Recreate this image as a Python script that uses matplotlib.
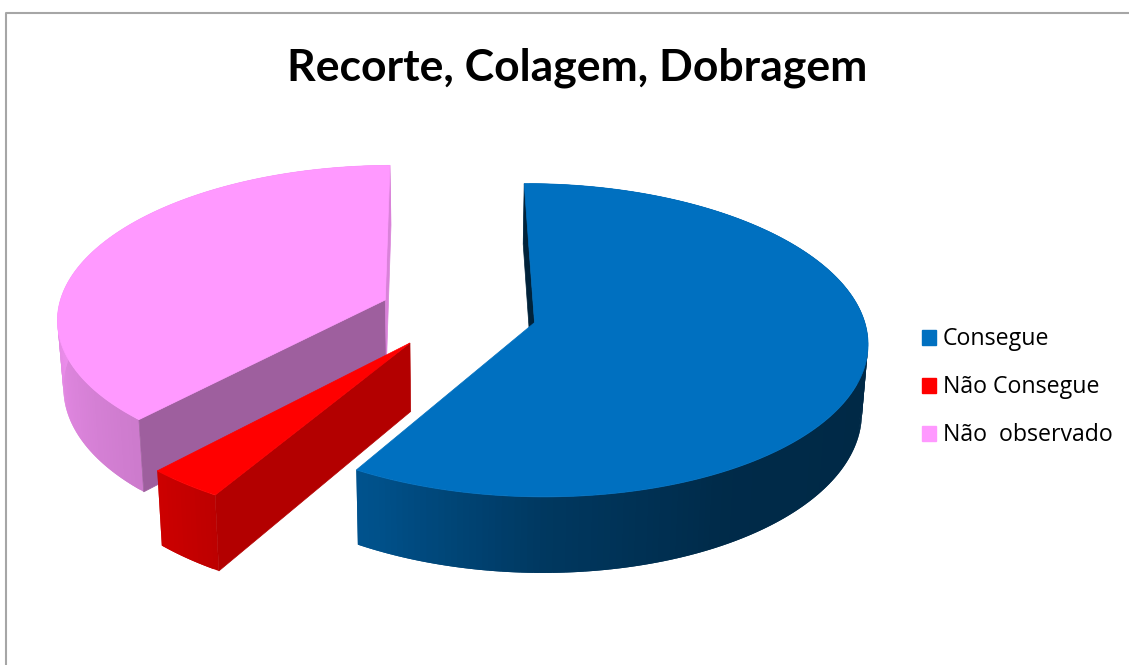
import numpy as np
import matplotlib
matplotlib.use('Agg')
import matplotlib.pyplot as plt
from matplotlib.patches import Polygon, Patch

# data
labels = ['Consegue', 'Não Consegue', 'Não  observado']
values = [58.65, 3.35, 38.0]
colors = ['#0070C0', '#FF0000', '#FF99FF']
title = 'Recorte, Colagem, Dobragem'

# look of the fake 3d pie (pixels of the 1129x665 picture)
start_angle = -0.5
explode = 0.24
x0, y0 = 458, 313
rx, ry = 328, 152.5
persp = 0.112
depth = 67
x_shrink = 0.985

# how dark the wall gets going round the pie (clockwise from the top)
shade_angle = [0, 100, 150, 180, 207, 222, 270, 360]
shade_value = [0.85, 0.36, 0.38, 0.5, 0.72, 0.8, 0.92, 0.85]
wall_start = [0.3, 0.7, 0.62]
wall_end = [0.3, 0.7, 0.85]


def project(X, Y, z=0.0):
    s = 1 / (1 + persp * Y)
    shrink = 1 - (1 - x_shrink) * z
    return x0 + rx * X * s * shrink, y0 - ry * Y * s + depth * s * z


def darker(col, k):
    return tuple(c * k for c in matplotlib.colors.to_rgb(col))


def area(pts):
    pts = np.array(pts)
    x, y = pts[:, 0], pts[:, 1]
    return 0.5 * np.sum(x * np.roll(y, -1) - y * np.roll(x, -1))


def draw_slice(ax, a0, a1, col, w0, w1):
    mid = np.radians((a0 + a1) / 2)
    cx, cy = explode * np.sin(mid), explode * np.cos(mid)
    ang = np.arange(a0, a1, 1.0)
    ang = np.append(ang, a1)
    X = cx + np.sin(np.radians(ang))
    Y = cy + np.cos(np.radians(ang))

    # outer wall, strips overlap by one step so no seams show
    n = len(ang)
    for i in range(n - 1):
        e = min(i + 2, n - 1)
        q = [project(X[i], Y[i]), project(X[e], Y[e]),
             project(X[e], Y[e], 1), project(X[i], Y[i], 1)]
        k = np.interp((ang[i] + ang[i + 1]) / 2, shade_angle, shade_value)
        ax.add_patch(Polygon(q, closed=True, fc=darker(col, k), lw=0))

    # the two cut faces, drawn only if they look at the viewer
    for j, sign, k in [(0, -1, w0), (-1, 1, w1)]:
        q = [project(cx, cy), project(X[j], Y[j]),
             project(X[j], Y[j], 1), project(cx, cy, 1)]
        if area(q) * sign > 0:
            c = darker(col, k)
            ax.add_patch(Polygon(q, closed=True, fc=c, ec=c, lw=0.5))

    top = [project(cx, cy)] + [project(a, b) for a, b in zip(X, Y)]
    ax.add_patch(Polygon(top, closed=True, fc=col, ec=col, lw=0.5))


fig = plt.figure(figsize=(11.29, 6.65), dpi=100)
ax = fig.add_axes([0, 0, 1, 1])
ax.set_xlim(0, 1129)
ax.set_ylim(665, 0)
ax.axis('off')

# chart frame, cut by the edge of the picture
ax.plot([5.5, 5.5, 1129], [665, 13.2, 13.2], color='#A6A6A6', lw=1.5)

edges = start_angle + np.cumsum([0] + values) * 3.6
for i in [2, 1, 0]:
    draw_slice(ax, edges[i], edges[i + 1], colors[i], wall_start[i], wall_end[i])

ax.text(577.5, 67.5, title, ha='center', va='center', fontsize=32,
        fontweight='bold', family='Lato', color='black')

handles = [Patch(fc=c, ec=c) for c in colors]
ax.legend(handles, labels, loc='center left', bbox_to_anchor=(0.8167, 0.4175),
          frameon=False, prop={'family': 'Open Sans', 'size': 16.7},
          handlelength=0.62, handleheight=0.62, handletextpad=0.28,
          labelspacing=1.03, borderpad=0, borderaxespad=0)

plt.savefig('out.png', dpi=100)
